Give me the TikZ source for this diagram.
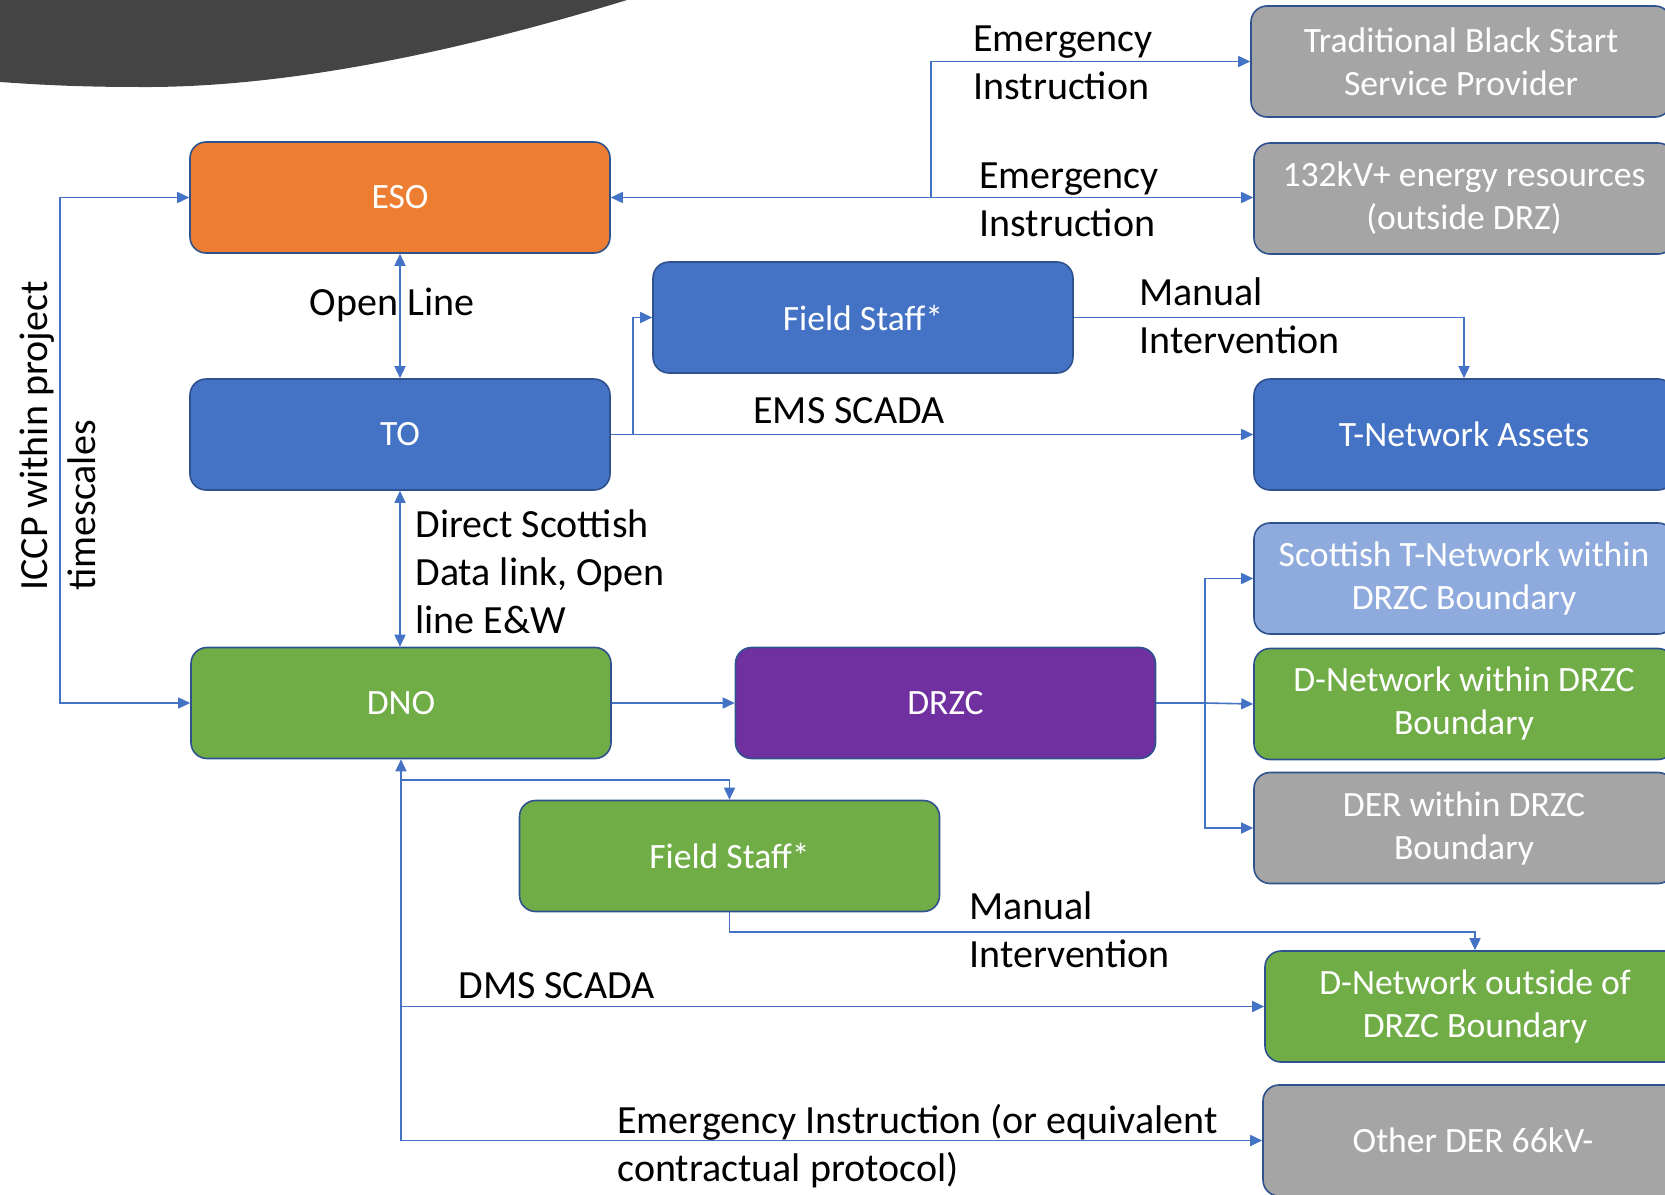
\documentclass[tikz,border=0pt]{standalone}
\usepackage{fontspec}
\setmainfont{Carlito}
\usetikzlibrary{arrows.meta}
\definecolor{esoorange}{HTML}{ED7D31}
\definecolor{toblue}{HTML}{4472C4}
\definecolor{ltblue}{HTML}{8FAADC}
\definecolor{dgreen}{HTML}{70AD47}
\definecolor{drzcpurple}{HTML}{7030A0}
\definecolor{boxgrey}{HTML}{A5A5A5}
\definecolor{edgeblue}{HTML}{2F528F}
\definecolor{lineblue}{HTML}{4472C4}
\definecolor{darkshape}{HTML}{444444}
\tikzset{
  boxnode/.style={rectangle, rounded corners=8pt, draw=edgeblue, line width=0.8pt,
    minimum width=210pt, minimum height=55.5pt, text=white, align=center,
    font=\fontsize{17.8}{21.5}\selectfont, inner sep=2pt},
  lbl/.style={align=left, inner sep=0pt, font=\fontsize{20}{24}\selectfont, text=black},
  conn/.style={draw=lineblue, line width=0.8pt},
  tip/.style={-{Triangle[length=6pt,width=5.5pt]}},
  bitip/.style={{Triangle[length=6pt,width=5.5pt]}-{Triangle[length=6pt,width=5.5pt]}},
}
\begin{document}
\begin{tikzpicture}[x=0.5pt,y=-0.5pt]
\useasboundingbox (0,0) rectangle (1665,1194);
\clip (0,0) rectangle (1665,1194);
% dark decorative shape
\fill[darkshape] (0,0) -- (627,0) .. controls (480,45) and (300,88) .. (140,87)
  .. controls (70,87) and (30,84) .. (0,82) -- cycle;

% boxes
\node[boxnode, fill=esoorange] (ESO) at (400,197.5) {ESO};
\node[boxnode, fill=toblue] (TO) at (400,434.5) {TO};
\node[boxnode, fill=dgreen] (DNO) at (401,703) {DNO};
\node[boxnode, fill=toblue] (FSB) at (863,317.5) {Field Staff*};
\node[boxnode, fill=drzcpurple] (DRZC) at (945.5,703) {DRZC};
\node[boxnode, fill=dgreen] (FSG) at (729.5,856) {Field Staff*};
\node[boxnode, fill=boxgrey] (TRAD) at (1461,61.5) {Traditional Black Start\\Service Provider};
\node[boxnode, fill=boxgrey] (KV) at (1464,198.5) {132kV+ energy resources\\(outside DRZ)};
\node[boxnode, fill=toblue] (TNET) at (1464,434.5) {T-Network Assets};
\node[boxnode, fill=ltblue] (SCOT) at (1464,578.5) {Scottish T-Network within\\DRZC Boundary};
\node[boxnode, fill=dgreen] (DWIN) at (1464,704) {D-Network within DRZC\\Boundary};
\node[boxnode, fill=boxgrey] (DER) at (1464,828) {DER within DRZC\\Boundary};
\node[boxnode, fill=dgreen] (DOUT) at (1475,1006.5) {D-Network outside of\\DRZC Boundary};
\node[boxnode, fill=boxgrey] (OTHER) at (1473,1140.5) {Other DER 66kV-};

% junction coordinates
\coordinate (j1) at (931,63);
\coordinate (j2) at (633,317);
\coordinate (j3) at (60,400);
\coordinate (j4) at (1205,700);
\coordinate (j5) at (400,780);
\coordinate (j6) at (730,932);

% connectors
\draw[conn, bitip] (ESO.east) -- (ESO.east -| KV.west);
\draw[conn, tip] (ESO.east -| j1) |- (TRAD.west);
\draw[conn, bitip] (ESO.south) -- (TO.north);
\draw[conn, tip] (TO.east) -- (TNET.west);
\draw[conn, tip] (TO.east -| j2) |- (FSB.west);
\draw[conn, tip] (FSB.east) -| (TNET.north);
\draw[conn, bitip] (TO.south) -- (TO.south |- DNO.north);
\draw[conn, bitip] (ESO.west) -- (ESO.west -| j3) |- (DNO.west);
\draw[conn, tip] (DNO.east) -- (DNO.east -| DRZC.west);
\draw[conn, tip] (DRZC.east) -- (DRZC.east -| j4) |- (SCOT.west);
\draw[conn, tip] (DRZC.east -| j4) -- (DWIN.west);
\draw[conn, tip] (DRZC.east -| j4) |- (DER.west);
\draw[conn, bitip] (DNO.south) |- (OTHER.west);
\draw[conn, tip] (DNO.south |- DOUT.west) -- (DOUT.west);
\draw[conn, tip] (DNO.south |- j5) -| (FSG.north);
\draw[conn, tip] (FSG.south) -- (FSG.south |- j6) -| (DOUT.north);

% labels
\node[lbl, anchor=west] (l1) at (973,63) {Emergency\\Instruction};
\node[lbl, anchor=west] (l2) at (979,200) {Emergency\\Instruction};
\node[lbl] (l3) at (392,305) {Open Line};
\node[lbl, anchor=west] (l4) at (1139,316) {Manual\\Intervention};
\node[lbl, anchor=west] (l5) at (753,411) {EMS SCADA};
\node[lbl, anchor=west] (l6) at (415,572) {Direct Scottish\\Data link, Open\\line E\&W};
\node[lbl, anchor=west, rotate=90] (l7) at (58,591) {ICCP within project\\timescales};
\node[lbl, anchor=west] (l8) at (969,930) {Manual\\Intervention};
\node[lbl, anchor=west] (l9) at (458,986) {DMS SCADA};
\node[lbl, anchor=west] (l10) at (617,1146) {Emergency Instruction (or equivalent\\contractual protocol)};
\end{tikzpicture}
\end{document}
